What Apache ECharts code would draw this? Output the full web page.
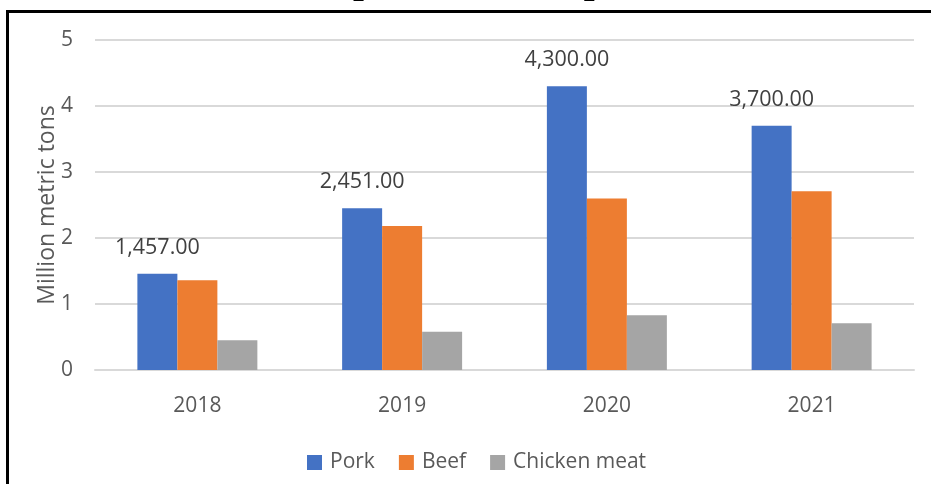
<!DOCTYPE html>
<html>
<head>
<meta charset="utf-8">
<script src="https://cdn.jsdelivr.net/npm/echarts@6/dist/echarts.min.js"></script>
<style>
  html, body { margin: 0; padding: 0; background: #ffffff; }
  #chart { width: 931px; height: 484px; }
</style>
</head>
<body>
<div id="chart"></div>
<script>
// Meat imports by year, million metric tons
const years = ['2018', '2019', '2020', '2021'];
const pork = [1.457, 2.451, 4.3, 3.7];
const beef = [1.36, 2.18, 2.6, 2.71];
const chicken = [0.45, 0.58, 0.83, 0.71];
const yTicks = [0, 1, 2, 3, 4, 5];

const FONT = '"Open Sans", "Noto Sans", sans-serif';
const TEXT = '#595959';

// Pork labels are written in thousand tons
function thousands(v) {
  return (v * 1000).toLocaleString('en-US', { minimumFractionDigits: 2, maximumFractionDigits: 2 });
}

const chart = echarts.init(document.getElementById('chart'), null, { renderer: 'canvas' });

chart.setOption({
  backgroundColor: '#ffffff',
  animation: false,
  textStyle: { fontFamily: FONT },
  graphic: [
    {
      type: 'text',
      left: 172,
      top: -38,
      silent: true,
      style: {
        text: "China's imports of meat products",
        font: 'bold 39px "Liberation Serif", "Times New Roman", serif',
        fill: '#000000'
      }
    },
    {
      type: 'rect',
      silent: true,
      shape: { x: 7.5, y: 11.5, width: 1200, height: 1200 },
      style: { fill: 'none', stroke: '#000000', lineWidth: 3 }
    }
  ],
  grid: { left: 95, right: 17, top: 40, bottom: 114, containLabel: false },
  legend: {
    left: 302,
    top: 447,
    icon: 'rect',
    itemWidth: 15,
    itemHeight: 15,
    itemGap: 24,
    textStyle: { fontFamily: FONT, fontSize: 21, color: TEXT, padding: [0, 0, 0, 3] },
    data: ['Pork', 'Beef', 'Chicken meat']
  },
  xAxis: {
    type: 'category',
    data: years,
    axisLine: { lineStyle: { color: '#d9d9d9', width: 2 } },
    axisTick: { show: false },
    axisLabel: { fontFamily: FONT, fontSize: 21, color: TEXT, margin: 26 }
  },
  yAxis: {
    type: 'value',
    min: yTicks[0],
    max: yTicks[yTicks.length - 1],
    interval: 1,
    name: 'Million metric tons',
    nameLocation: 'middle',
    nameGap: 36,
    nameMoveOverlap: false,
    nameTextStyle: { fontFamily: FONT, fontSize: 23, color: TEXT },
    axisLine: { show: false },
    axisTick: { show: false },
    axisLabel: { fontFamily: FONT, fontSize: 21, color: TEXT, margin: 22 },
    splitLine: { lineStyle: { color: '#d9d9d9', width: 2 } }
  },
  series: [
    {
      name: 'Pork',
      type: 'bar',
      data: pork,
      barGap: '0%',
      barCategoryGap: '41.4%',
      itemStyle: { color: '#4472C4' },
      label: {
        show: true,
        position: 'top',
        distance: 15,
        fontFamily: FONT,
        fontSize: 21.5,
        color: '#404040',
        formatter: p => thousands(p.value)
      }
    },
    {
      name: 'Beef',
      type: 'bar',
      data: beef,
      barGap: '0%',
      barCategoryGap: '41.4%',
      itemStyle: { color: '#ED7D31' }
    },
    {
      name: 'Chicken meat',
      type: 'bar',
      data: chicken,
      barGap: '0%',
      barCategoryGap: '41.4%',
      itemStyle: { color: '#A5A5A5' }
    }
  ]
});
</script>
</body>
</html>
